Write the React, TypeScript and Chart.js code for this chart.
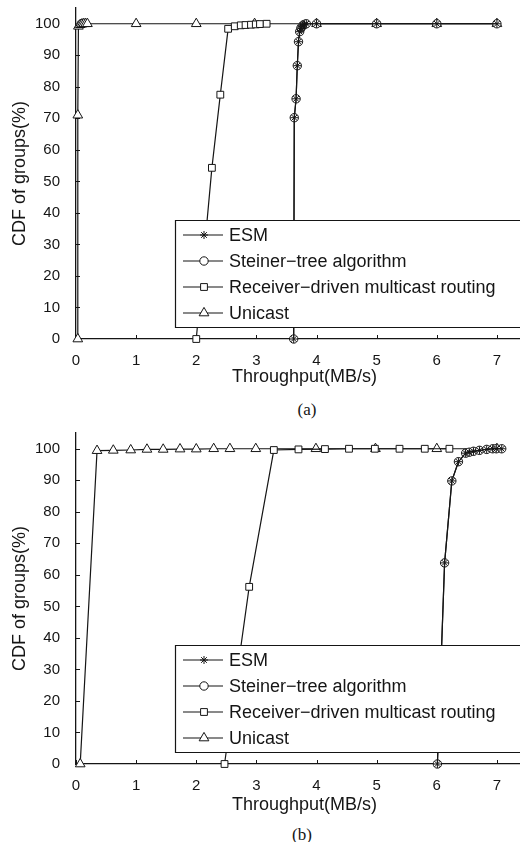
import { useEffect, useRef } from "react";
import { Chart, registerables } from "chart.js";

Chart.register(...registerables);

// Axis ticks and ranges
const xTicks = [0, 1, 2, 3, 4, 5, 6, 7];
const yTicks = [0, 10, 20, 30, 40, 50, 60, 70, 80, 90, 100];
const xMax = 7.6;
const yMax = 105;

const seriesNames = [
  "ESM",
  "Steiner\u2212tree algorithm",
  "Receiver\u2212driven multicast routing",
  "Unicast",
];
const xTitle = "Throughput(MB/s)";
const yTitle = "CDF of groups(%)";

// Panel (a)
const esmAX = [3.62, 3.63, 3.66, 3.68, 3.7, 3.72, 3.74, 3.76, 3.78, 3.8, 3.83, 4, 5, 6, 7];
const esmAY = [0, 70.2, 76.2, 86.7, 94.3, 97.5, 98.6, 99.2, 99.6, 99.8, 100, 100, 100, 100, 100];
const steinerAX = [3.62, 3.63, 3.66, 3.68, 3.7, 3.72, 3.74, 3.76, 3.78, 3.8, 3.83, 4, 5, 6, 7];
const steinerAY = [0, 70.2, 76.2, 86.7, 94.3, 97.5, 98.6, 99.2, 99.6, 99.8, 100, 100, 100, 100, 100];
const receiverAX = [2.0, 2.26, 2.4, 2.53, 2.64, 2.74, 2.82, 2.91, 2.99, 3.06, 3.17];
const receiverAY = [0, 54.3, 77.5, 98.4, 99.2, 99.5, 99.6, 99.7, 99.8, 99.9, 100];
const unicastAX = [0.03, 0.03, 0.04, 0.07, 0.1, 0.13, 0.16, 0.19, 1, 2, 2.97, 4, 5, 6, 7];
const unicastAY = [0, 71, 99.2, 99.7, 99.9, 100, 100, 100, 100, 100, 100, 100, 100, 100, 100];

// Panel (b)
const esmBX = [6.01, 6.13, 6.25, 6.36, 6.48, 6.54, 6.61, 6.71, 6.83, 6.93, 6.99, 7.08];
const esmBY = [0, 63.8, 89.8, 95.9, 98.6, 98.9, 99.2, 99.5, 99.8, 100, 100, 100];
const steinerBX = [6.01, 6.13, 6.25, 6.36, 6.48, 6.54, 6.61, 6.71, 6.83, 6.93, 6.99, 7.08];
const steinerBY = [0, 63.8, 89.8, 95.9, 98.6, 98.9, 99.2, 99.5, 99.8, 100, 100, 100];
const receiverBX = [2.47, 2.88, 3.29, 3.7, 4.14, 4.54, 4.97, 5.38, 5.8, 6.21];
const receiverBY = [0, 56.2, 99.6, 99.8, 99.9, 100, 100, 100, 100, 100];
const unicastBX = [0.07, 0.35, 0.62, 0.91, 1.18, 1.45, 1.73, 2.0, 2.29, 2.56, 2.99, 3.99, 4.98, 6.0, 7.0];
const unicastBY = [0, 99.4, 99.5, 99.6, 99.8, 99.8, 99.9, 99.9, 100, 100, 100, 100, 100, 100, 100];

const INK = "#151515";
const FONT = '"Liberation Sans", Arial, Helvetica, sans-serif';

type Marker = { style: "star" | "circle" | "rect" | "triangle"; radius: number };
const markers: Marker[] = [
  { style: "star", radius: 4 },
  { style: "circle", radius: 4.2 },
  { style: "rect", radius: 4.8 },
  { style: "triangle", radius: 5.6 },
];

function drawMarker(ctx: CanvasRenderingContext2D, m: Marker, x: number, y: number) {
  const r = m.radius;
  ctx.beginPath();
  if (m.style === "circle") {
    ctx.arc(x, y, r, 0, Math.PI * 2);
    ctx.fill();
    ctx.stroke();
  } else if (m.style === "rect") {
    const h = r * Math.SQRT1_2;
    ctx.rect(x - h, y - h, 2 * h, 2 * h);
    ctx.fill();
    ctx.stroke();
  } else if (m.style === "triangle") {
    let a = 0;
    ctx.moveTo(x + Math.sin(a) * r, y - Math.cos(a) * r);
    a += (2 * Math.PI) / 3;
    ctx.lineTo(x + Math.sin(a) * r, y - Math.cos(a) * r);
    a += (2 * Math.PI) / 3;
    ctx.lineTo(x + Math.sin(a) * r, y - Math.cos(a) * r);
    ctx.closePath();
    ctx.fill();
    ctx.stroke();
  } else {
    for (let k = 0; k < 4; k++) {
      const a = (k * Math.PI) / 4;
      ctx.moveTo(x - Math.cos(a) * r, y - Math.sin(a) * r);
      ctx.lineTo(x + Math.cos(a) * r, y + Math.sin(a) * r);
    }
    ctx.stroke();
  }
}

// Short tick marks pointing into the plot area
const innerTicks = {
  id: "innerTicks",
  beforeDatasetsDraw(chart: any) {
    const { ctx, chartArea, scales } = chart;
    ctx.save();
    ctx.strokeStyle = INK;
    ctx.lineWidth = 1;
    ctx.beginPath();
    for (const v of xTicks) {
      const px = Math.round(scales.x.getPixelForValue(v)) + 0.5;
      ctx.moveTo(px, chartArea.bottom);
      ctx.lineTo(px, chartArea.bottom - 4);
    }
    for (const v of yTicks) {
      const py = Math.round(scales.y.getPixelForValue(v)) + 0.5;
      ctx.moveTo(chartArea.left, py);
      ctx.lineTo(chartArea.left + 4, py);
    }
    ctx.stroke();
    ctx.restore();
  },
};

// Boxed legend sitting inside the lower right of the plot, running on past the plot's right edge
const insetLegend = {
  id: "insetLegend",
  afterDatasetsDraw(chart: any) {
    const { ctx, chartArea, width } = chart;
    const left = chartArea.left + 99;
    const top = chartArea.top + 212;
    const bottom = chartArea.bottom - 12;
    const right = width;
    ctx.save();
    ctx.fillStyle = "#ffffff";
    ctx.fillRect(left, top, right - left, bottom - top);
    ctx.strokeStyle = INK;
    ctx.lineWidth = 1.2;
    ctx.beginPath();
    ctx.moveTo(right, top + 0.5);
    ctx.lineTo(left + 0.5, top + 0.5);
    ctx.lineTo(left + 0.5, bottom + 0.5);
    ctx.lineTo(right, bottom + 0.5);
    ctx.stroke();
    chart.data.datasets.forEach((ds: any, i: number) => {
      const y = top + 15 + i * 26;
      ctx.strokeStyle = INK;
      ctx.lineWidth = 1.2;
      ctx.beginPath();
      ctx.moveTo(left + 8, y);
      ctx.lineTo(left + 48, y);
      ctx.stroke();
      ctx.fillStyle = "#ffffff";
      ctx.lineWidth = 1;
      drawMarker(ctx, markers[i], left + 29, y);
      ctx.fillStyle = INK;
      ctx.font = `18px ${FONT}`;
      ctx.textBaseline = "middle";
      ctx.textAlign = "left";
      ctx.fillText(ds.label, left + 54, y + 1);
    });
    ctx.restore();
  },
};

type Series = { x: number[]; y: number[] };

function Panel({ series, xTitlePad }: { series: Series[]; xTitlePad: number }) {
  const ref = useRef<HTMLCanvasElement>(null);
  useEffect(() => {
    const chart = new Chart(ref.current as HTMLCanvasElement, {
      type: "line",
      data: {
        datasets: series.map((s, i) => ({
          label: seriesNames[i],
          data: s.x.map((x, k) => ({ x, y: s.y[k] })),
          borderColor: INK,
          borderWidth: 1.2,
          backgroundColor: "#ffffff",
          pointBackgroundColor: "#ffffff",
          pointBorderColor: INK,
          pointBorderWidth: 1,
          pointStyle: markers[i].style,
          pointRadius: markers[i].radius,
          tension: 0,
          fill: false,
          clip: false as any,
        })),
      },
      options: {
        animation: false,
        responsive: false,
        devicePixelRatio: 1,
        layout: { autoPadding: false, padding: { top: 8, left: 0, right: 0, bottom: 0 } },
        plugins: { legend: { display: false }, tooltip: { enabled: false } },
        scales: {
          x: {
            type: "linear",
            min: 0,
            max: xMax,
            grid: { display: false },
            border: { display: true, color: INK, width: 1.3 },
            ticks: { padding: 5, color: INK, autoSkip: false, maxRotation: 0, font: { size: 15, family: FONT } },
            afterBuildTicks: (s: any) => {
              s.ticks = xTicks.map((value) => ({ value }));
            },
            afterFit: (s: any) => {
              s.height = 60;
              s.paddingLeft = 0;
              s.paddingRight = 0;
            },
            title: {
              display: true,
              text: xTitle,
              color: INK,
              font: { size: 18, family: FONT },
              padding: { top: 0, bottom: xTitlePad },
            },
          },
          y: {
            type: "linear",
            min: 0,
            max: yMax,
            grid: { display: false },
            border: { display: true, color: INK, width: 1.3 },
            ticks: { padding: 8, color: INK, autoSkip: false, font: { size: 15, family: FONT } },
            afterBuildTicks: (s: any) => {
              s.ticks = yTicks.map((value) => ({ value }));
            },
            afterFit: (s: any) => {
              s.width = 76;
              s.paddingTop = 0;
              s.paddingBottom = 0;
            },
            title: {
              display: true,
              text: yTitle,
              color: INK,
              font: { size: 18, family: FONT },
              padding: { top: 9, bottom: 0 },
            },
          },
        },
      },
      plugins: [innerTicks, insetLegend],
    } as any);
    return () => chart.destroy();
  }, []);
  return <canvas ref={ref} width={533} height={399} style={{ display: "block" }} />;
}

const captionStyle = {
  position: "absolute" as const,
  width: 100,
  textAlign: "center" as const,
  fontFamily: '"Liberation Serif", "Times New Roman", serif',
  fontSize: 17,
  lineHeight: "20px",
  color: "#151515",
};

export default function App() {
  const panelA: Series[] = [
    { x: esmAX, y: esmAY },
    { x: steinerAX, y: steinerAY },
    { x: receiverAX, y: receiverAY },
    { x: unicastAX, y: unicastAY },
  ];
  const panelB: Series[] = [
    { x: esmBX, y: esmBY },
    { x: steinerBX, y: steinerBY },
    { x: receiverBX, y: receiverBY },
    { x: unicastBX, y: unicastBY },
  ];
  return (
    <div
      style={{
        position: "absolute",
        left: 0,
        top: 0,
        width: 520,
        height: 842,
        overflow: "hidden",
        background: "#ffffff",
      }}
    >
      <div style={{ position: "absolute", left: 0, top: 0 }}>
        <Panel series={panelA} xTitlePad={11} />
      </div>
      <div style={{ ...captionStyle, left: 257, top: 400 }}>(a)</div>
      <div style={{ position: "absolute", left: 0, top: 425 }}>
        <Panel series={panelB} xTitlePad={8} />
      </div>
      <div style={{ ...captionStyle, left: 252, top: 825 }}>(b)</div>
    </div>
  );
}
